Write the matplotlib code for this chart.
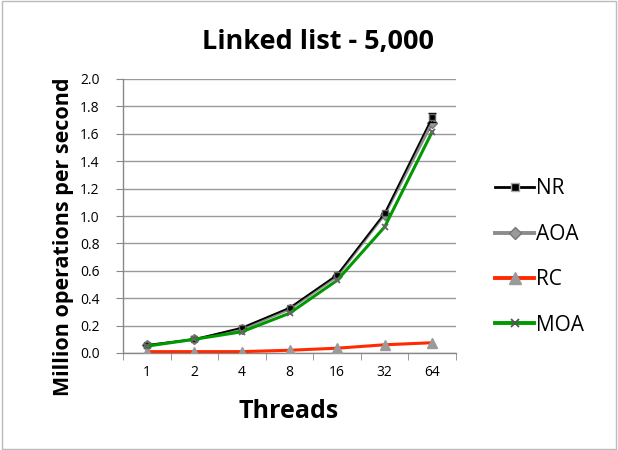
import matplotlib
matplotlib.use("Agg")
import matplotlib.pyplot as plt
from matplotlib.patches import Rectangle
from matplotlib.lines import Line2D

threads = ["1", "2", "4", "8", "16", "32", "64"]
nr = [0.058, 0.10, 0.185, 0.33, 0.57, 1.02, 1.72]
nr_err = [0.0, 0.0, 0.0, 0.0, 0.0, 0.0, 0.035]
aoa = [0.055, 0.10, 0.175, 0.32, 0.56, 1.01, 1.68]
rc = [0.01, 0.01, 0.01, 0.02, 0.035, 0.06, 0.075]
moa = [0.05, 0.10, 0.155, 0.29, 0.53, 0.92, 1.615]
yticks = [0.0, 0.2, 0.4, 0.6, 0.8, 1.0, 1.2, 1.4, 1.6, 1.8, 2.0]

plt.rcParams['font.family'] = ['Open Sans', 'DejaVu Sans']

fig = plt.figure(figsize=(6.18, 4.5), dpi=100)
ax = fig.add_axes([123/618, 1-353/450, (456-123)/618, (353-79)/450])
x = list(range(len(threads)))

ax.errorbar(x, nr, yerr=nr_err, color='black', lw=1.3, marker='s', ms=5,
            mfc='black', mec='#666666', capsize=3, elinewidth=1, zorder=4)
h_nr = Line2D([], [], color='black', lw=2, marker='s', ms=6, mfc='black', mec='#aaaaaa')
h_aoa, = ax.plot(x, aoa, color='#8c8c8c', lw=2, marker='D', ms=5, mfc='#9a9a9a', mec='#777777',
                 zorder=3)
h_rc, = ax.plot(x, rc, color='#ff2a00', lw=2.2, marker='^', ms=7, mfc='#9a9a9a', mec='#9a9a9a',
                zorder=3)
h_moa, = ax.plot(x, moa, color='#009a00', lw=2.2, marker='x', ms=5, mew=1.3, mec='#666666',
                 zorder=5)
h_aoa_l = Line2D([], [], color='#8c8c8c', lw=2.8, marker='D', ms=6, mfc='#9a9a9a', mec='#777777')
h_rc_l = Line2D([], [], color='#ff2a00', lw=2.8, marker='^', ms=8, mfc='#9a9a9a', mec='#9a9a9a')
h_moa_l = Line2D([], [], color='#009a00', lw=2.8, marker='x', ms=6, mew=1.3, mec='#555555')

ax.set_xlim(-0.5, len(threads) - 0.5)
ax.set_ylim(0, 2.0)
ax.set_yticks(yticks)
ax.set_yticklabels([f"{v:.1f}" for v in yticks], fontsize=10)
ax.set_xticks(x)
ax.set_xticklabels(threads, fontsize=10)
ax.set_xticks([i + 0.5 for i in range(-1, len(threads))], minor=True)
ax.tick_params(axis='x', which='major', length=0, pad=9)
ax.tick_params(axis='x', which='minor', length=5, color='#888888', direction='out')
ax.tick_params(axis='y', length=5, color='#888888', direction='out', pad=12)
ax.grid(axis='y', color='#999999', lw=1)
ax.set_axisbelow(True)
for s in ['top', 'right']:
    ax.spines[s].set_visible(False)
for s in ['left', 'bottom']:
    ax.spines[s].set_color('#888888')
    ax.spines[s].set_linewidth(1)

fig.text(318/618, 1-42/450, "Linked list - 5,000", fontsize=19.5, fontweight='bold',
         ha='center', va='center')
fig.text(289/618, 1-411/450, "Threads", fontsize=18, fontweight='bold',
         ha='center', va='center')
fig.text(64/618, 1-237/450, "Million operations per second", fontsize=15.5,
         fontweight='bold', rotation=90, ha='center', va='center')

leg = fig.legend([h_nr, h_aoa_l, h_rc_l, h_moa_l], ["NR", "AOA", "RC", "MOA"],
                 loc='center left', bbox_to_anchor=(476/618, 1-257/450), frameon=False,
                 fontsize=15, handlelength=1.9, handletextpad=0.1, labelspacing=1.17)

fig.patches.append(Rectangle((0.003, 0.003), 0.994, 0.994, transform=fig.transFigure,
                             fill=False, ec='#bbbbbb', lw=1))
fig.savefig("out.png", dpi=100)
